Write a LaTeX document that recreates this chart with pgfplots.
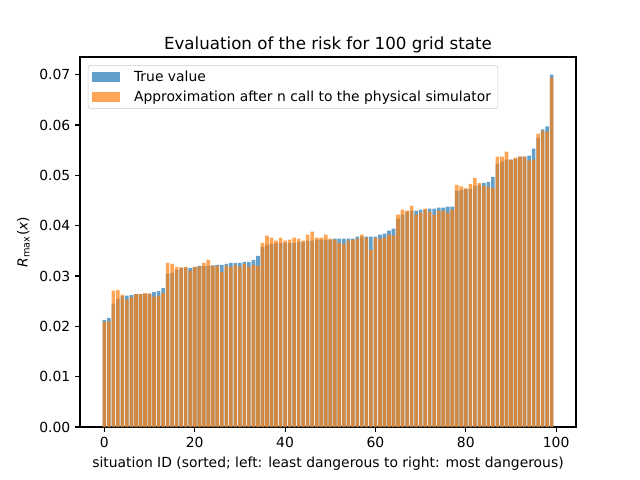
\documentclass[border=0pt]{standalone}
\usepackage{fontspec}
\setmainfont{DejaVu Sans}
\usepackage{pgfplots}
\usepackage{pgfplotstable}
\pgfplotsset{compat=1.18}
\definecolor{mblue}{HTML}{1F77B4}
\definecolor{morange}{HTML}{FF7F0E}
\definecolor{legframe}{gray}{0.8}
\pgfplotstableread{
n t a
0 0.0213 0.0209
1 0.0217 0.0210
2 0.0245 0.0271
3 0.0255 0.0272
4 0.0260 0.0263
5 0.0261 0.0253
6 0.0262 0.0258
7 0.0264 0.0264
8 0.0264 0.0264
9 0.0264 0.0266
10 0.0265 0.0265
11 0.0268 0.0259
12 0.0270 0.0261
13 0.0276 0.0266
14 0.0304 0.0326
15 0.0306 0.0324
16 0.0312 0.0318
17 0.0316 0.0317
18 0.0317 0.0318
19 0.0316 0.0310
20 0.0318 0.0318
21 0.0320 0.0318
22 0.0320 0.0326
23 0.0320 0.0332
24 0.0321 0.0320
25 0.0322 0.0320
26 0.0322 0.0308
27 0.0324 0.0320
28 0.0326 0.0318
29 0.0326 0.0322
30 0.0326 0.0318
31 0.0328 0.0324
32 0.0328 0.0318
33 0.0332 0.0322
34 0.0340 0.0320
35 0.0358 0.0366
36 0.0362 0.0380
37 0.0364 0.0376
38 0.0366 0.0370
39 0.0366 0.0376
40 0.0366 0.0370
41 0.0366 0.0372
42 0.0366 0.0376
43 0.0368 0.0374
44 0.0368 0.0370
45 0.0370 0.0382
46 0.0370 0.0388
47 0.0372 0.0376
48 0.0372 0.0376
49 0.0372 0.0382
50 0.0372 0.0374
51 0.0374 0.0372
52 0.0374 0.0366
53 0.0374 0.0364
54 0.0374 0.0370
55 0.0374 0.0372
56 0.0378 0.0374
57 0.0378 0.0382
58 0.0378 0.0376
59 0.0378 0.0352
60 0.0378 0.0376
61 0.0382 0.0374
62 0.0384 0.0376
63 0.0390 0.0382
64 0.0394 0.0380
65 0.0414 0.0422
66 0.0422 0.0432
67 0.0428 0.0430
68 0.0430 0.0440
69 0.0430 0.0422
70 0.0432 0.0426
71 0.0432 0.0434
72 0.0434 0.0428
73 0.0434 0.0422
74 0.0436 0.0430
75 0.0436 0.0430
76 0.0438 0.0426
77 0.0438 0.0432
78 0.0469 0.0481
79 0.0471 0.0478
80 0.0473 0.0474
81 0.0473 0.0483
82 0.0479 0.0495
83 0.0481 0.0485
84 0.0485 0.0479
85 0.0487 0.0477
86 0.0497 0.0475
87 0.0523 0.0537
88 0.0527 0.0537
89 0.0531 0.0547
90 0.0531 0.0531
91 0.0533 0.0535
92 0.0537 0.0537
93 0.0537 0.0537
94 0.0539 0.0529
95 0.0553 0.0531
96 0.0575 0.0583
97 0.0591 0.0589
98 0.0597 0.0587
99 0.0700 0.0694
}\datatable
\begin{document}
\begin{tikzpicture}
\begin{axis}[
  at={(0,0)}, anchor=south west,
  width=357.12pt, height=266.4pt, scale only axis,
  xmin=-5.39, xmax=104.39, ymin=0, ymax=0.0735,
  xtick={0,20,40,60,80,100},
  ytick={0,0.01,0.02,0.03,0.04,0.05,0.06,0.07},
  yticklabel style={/pgf/number format/.cd, fixed, fixed zerofill, precision=2},
  /pgf/number format/assume math mode=true,
  scaled y ticks=false,
  tick align=outside,
  tick pos=left,
  major tick length=3.5pt,
  every tick/.style={black, line width=0.8pt},
  axis line style={line width=0.8pt},
  ticklabel style={font=\fontsize{10}{12}\selectfont},
  title={Evaluation of the risk for 100 grid state},
  title style={font=\fontsize{12}{14}\selectfont, yshift=-6.5pt},
  xlabel={situation ID (sorted; left: least dangerous to right: most dangerous)},
  ylabel={{\itshape R}\textsubscript{max}({\itshape x})},
  label style={font=\fontsize{10}{12}\selectfont},
  ybar, bar width=0.8, bar shift=0pt,
  legend style={at={(0.016,0.978)}, anchor=north west, draw=legframe, rounded corners=2pt,
    fill=white, fill opacity=0.8, text opacity=1, font=\fontsize{10}{12}\selectfont,
    inner xsep=3pt, inner ysep=2pt, row sep=1pt,
    /tikz/every even column/.append style={column sep=0pt}},
  legend cell align=left,
  legend image code/.code={\fill[#1, draw=none, sharp corners] (-2pt,-3.5pt) rectangle (18pt,3.5pt); \path (26pt,0pt);},
]
\addplot[fill=mblue, draw=none, fill opacity=0.7, bar shift=0pt] table[x=n, y=t] {\datatable};
\addlegendentry{True value}
\addplot[fill=morange, draw=none, fill opacity=0.7, bar shift=0pt] table[x=n, y=a] {\datatable};
\addlegendentry{Approximation after n call to the physical simulator}
\end{axis}
\pgfresetboundingbox
\path[use as bounding box] (-57.6pt,-38.16pt) rectangle (403.2pt,307.44pt);
\end{tikzpicture}
\end{document}
